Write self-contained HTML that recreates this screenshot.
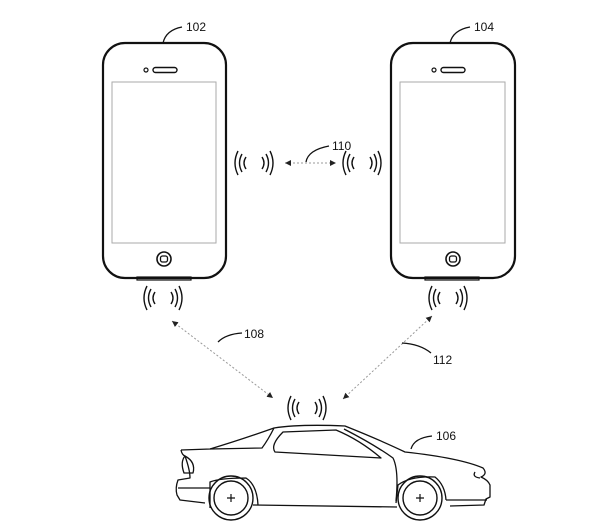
<!DOCTYPE html>
<html><head><meta charset="utf-8"><style>
html,body{margin:0;padding:0;background:#fff;}
svg{display:block;}
text{font-family:"Liberation Sans",sans-serif;font-size:12px;fill:#111;}
</style></head><body>
<svg width="600" height="532" viewBox="0 0 600 532" xmlns="http://www.w3.org/2000/svg">
<defs>
<g id="w" fill="none" stroke="#111" stroke-width="1.4">
<path d="M-8,-6 Q-12,0 -8,6"/><path d="M-12,-9 Q-17,0 -12,9"/><path d="M-16,-12 Q-22,0 -16,12"/>
<path d="M8,-6 Q12,0 8,6"/><path d="M12,-9 Q17,0 12,9"/><path d="M16,-12 Q22,0 16,12"/>
</g>
<marker id="a" markerWidth="8" markerHeight="8" refX="6" refY="3" orient="auto-start-reverse"><path d="M0,0 L6,3 L0,6z" fill="#222"/></marker>
</defs>
<!-- phone 1 -->
<rect x="103" y="43" width="123" height="235" rx="22" fill="none" stroke="#111" stroke-width="2.2"/>
<rect x="112" y="82" width="104" height="161" fill="none" stroke="#aaa" stroke-width="1"/>
<circle cx="146" cy="70" r="2" fill="none" stroke="#111" stroke-width="1.2"/>
<rect x="153" y="67.5" width="24" height="5" rx="2.5" fill="none" stroke="#111" stroke-width="1.4"/>
<circle cx="164" cy="259" r="7" fill="none" stroke="#111" stroke-width="1.6"/>
<rect x="160.5" y="256" width="7" height="6" rx="2" fill="none" stroke="#111" stroke-width="1.3"/>
<rect x="137" y="277" width="54" height="3" fill="none" stroke="#111" stroke-width="1.2"/>
<!-- phone 2 -->
<rect x="391" y="43" width="124" height="235" rx="22" fill="none" stroke="#111" stroke-width="2.2"/>
<rect x="400" y="82" width="105" height="161" fill="none" stroke="#aaa" stroke-width="1"/>
<circle cx="434" cy="70" r="2" fill="none" stroke="#111" stroke-width="1.2"/>
<rect x="441" y="67.5" width="24" height="5" rx="2.5" fill="none" stroke="#111" stroke-width="1.4"/>
<circle cx="453" cy="259" r="7" fill="none" stroke="#111" stroke-width="1.6"/>
<rect x="449.5" y="256" width="7" height="6" rx="2" fill="none" stroke="#111" stroke-width="1.3"/>
<rect x="425" y="277" width="54" height="3" fill="none" stroke="#111" stroke-width="1.2"/>
<!-- waves -->
<use href="#w" transform="translate(163,298)"/>
<use href="#w" transform="translate(448,298)"/>
<use href="#w" transform="translate(254,163)"/>
<use href="#w" transform="translate(362,163)"/>
<use href="#w" transform="translate(307,408)"/>
<!-- arrows -->
<g stroke="#999" stroke-width="1" stroke-dasharray="2,2" fill="none">
<path d="M285,163 L336,163" marker-end="url(#a)" marker-start="url(#a)"/>
<path d="M172,321 L273,398" marker-end="url(#a)" marker-start="url(#a)"/>
<path d="M432,316 L343,399" marker-end="url(#a)" marker-start="url(#a)"/>
</g>
<!-- leaders -->
<g fill="none" stroke="#111" stroke-width="1.3">
<path d="M163,43 Q166,30 182,27"/>
<path d="M450,43 Q453,30 470,27"/>
<path d="M306,162 Q308,150 329,146"/>
<path d="M218,342 Q226,334 242,333"/>
<path d="M402,343 Q420,344 431,353"/>
<path d="M411,449 Q414,438 432,436"/>
</g>
<text x="186" y="31">102</text>
<text x="474" y="31">104</text>
<text x="332" y="150">110</text>
<text x="244" y="338">108</text>
<text x="433" y="364">112</text>
<text x="436" y="440">106</text>
<!-- car -->
<g fill="none" stroke="#111" stroke-width="1.3" stroke-linejoin="round">
<path d="M181,450 L210,449 Q240,440 274,428 Q300,424 345,426 Q380,440 405,452 Q460,458 483,468 Q488,474 481,477 Q488,480 490,485 L490,497 L486,499 L484,505 L450,506"/>
<path d="M210,449 L262,448 Q268,440 274,428"/>
<path d="M275,452 Q270,445 283,432 L336,430 Q360,440 381,458 Z"/>
<path d="M344,429 Q375,445 393,458 Q399,470 396,501"/>
<path d="M181,450 Q182,455 185,456 Q180,462 184,473 L193,473 Q196,462 185,456"/>
<path d="M185,456 Q190,470 190,478 L178,480 Q175,488 177,495 L180,500 L205,503"/>
<path d="M178,488 L210,488"/>
<path d="M253,505 L397,507"/>
<path d="M210,508 L210,482 Q220,478 246,478 Q257,485 258,505"/>
<path d="M396,503 L398,485 Q410,476 435,477 Q445,485 446,500"/>
<path d="M446,500 L487,500"/>
<path d="M475,472 Q472,477 480,478"/>
</g>
<g fill="none" stroke="#111" stroke-width="1.4">
<circle cx="231" cy="498" r="22"/><circle cx="231" cy="498" r="17"/>
<circle cx="420" cy="498" r="22"/><circle cx="420" cy="498" r="17"/>
</g>
<g stroke="#111" stroke-width="1.2">
<path d="M231,494 V502 M227,498 H235"/>
<path d="M420,494 V502 M416,498 H424"/>
</g>
</svg>
</body></html>
